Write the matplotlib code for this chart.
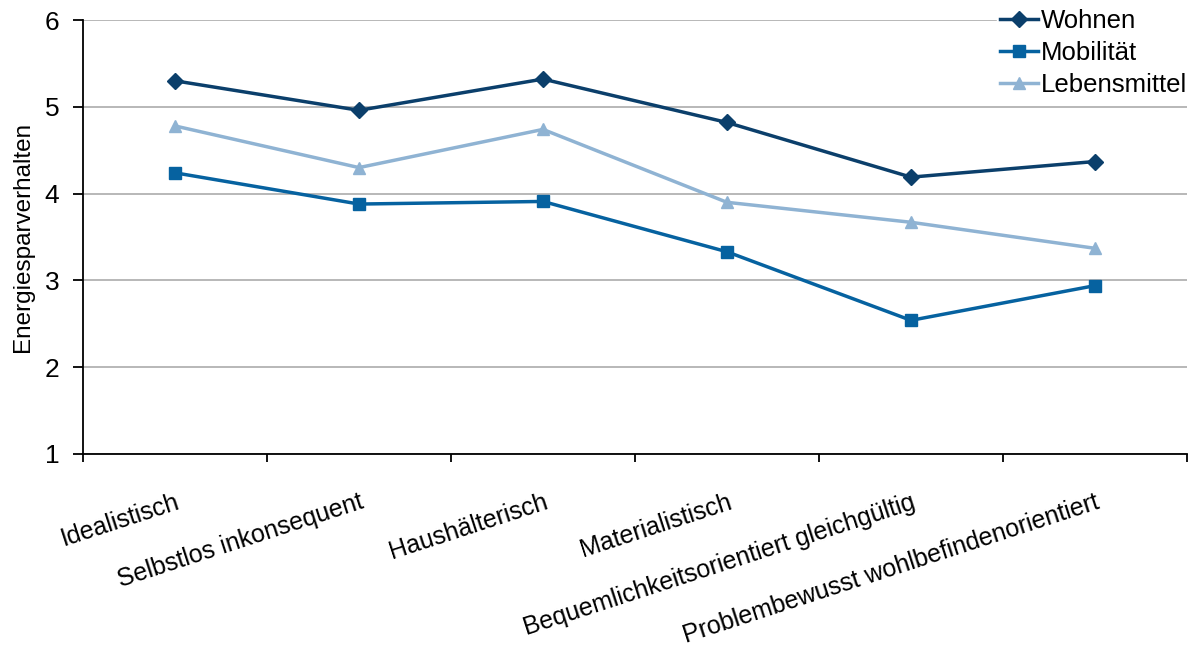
import numpy as np
import matplotlib.pyplot as plt

plt.rcParams['font.family'] = ['Liberation Sans', 'DejaVu Sans']

typen = ["Idealistisch", "Selbstlos inkonsequent", "Haushälterisch", "Materialistisch",
         "Bequemlichkeitsorientiert gleichgültig", "Problembewusst wohlbefindenorientiert"]
wohnen = [5.30, 4.96, 5.32, 4.82, 4.19, 4.37]
mobilitaet = [4.24, 3.88, 3.91, 3.33, 2.54, 2.94]
lebensmittel = [4.78, 4.30, 4.74, 3.90, 3.67, 3.37]

fig = plt.figure(figsize=(11.89, 6.47), dpi=100)
ax = fig.add_axes([0.0698, 0.2983, 0.9285, 0.6707])

x = np.arange(len(typen))
ax.plot(x, wohnen, color="#0B3F6B", lw=2.5, marker="D", ms=8, label="Wohnen")
ax.plot(x, mobilitaet, color="#0662A0", lw=2.5, marker="s", ms=8, label="Mobilität")
ax.plot(x, lebensmittel, color="#8FB3D3", lw=2.5, marker="^", ms=9, label="Lebensmittel")

ax.set_xlim(-0.5, len(typen) - 0.5)
ax.set_ylim(1, 6)
ax.set_yticks([1, 2, 3, 4, 5, 6])
ax.yaxis.grid(True, color="#ABABAB", lw=1.2)
ax.set_axisbelow(True)
for s in ["top", "right"]:
    ax.spines[s].set_visible(False)
ax.spines["left"].set_linewidth(1.3)
ax.spines["bottom"].set_linewidth(1.3)

ax.set_xticks(x)
ax.set_xticklabels(typen, rotation=18, ha="right", va="top", rotation_mode="anchor", fontsize=18)
ax.tick_params(axis="x", which="major", length=0, pad=26)
ax.set_xticks(np.arange(-0.5, len(typen)), minor=True)
ax.tick_params(axis="x", which="minor", length=6, width=1.3, direction="out")
ax.tick_params(axis="y", length=7, width=1.3, labelsize=19, pad=10)

ax.set_ylabel("Energiesparverhalten", fontsize=17.5, labelpad=8)

leg = ax.legend(loc="upper right", bbox_to_anchor=(1.014, 1.06), frameon=True, fontsize=18.5,
                handlelength=1.5, handletextpad=0.1, labelspacing=0.3, borderpad=0.1,
                fancybox=False, edgecolor="white", framealpha=1)

fig.savefig("out.png", dpi=100)
